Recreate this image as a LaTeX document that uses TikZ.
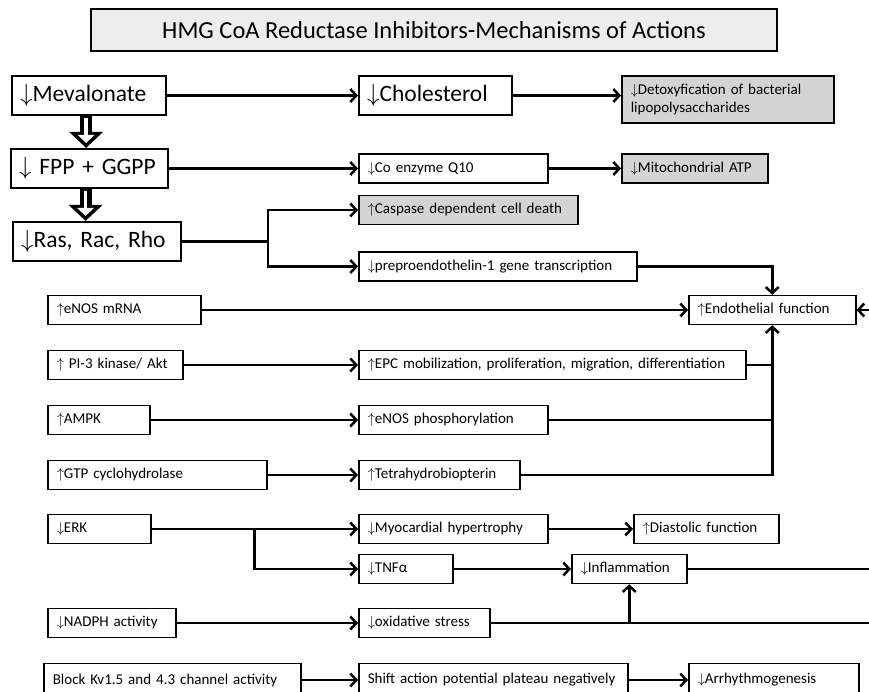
\documentclass[tikz,border=0pt]{standalone}
\usepackage{fontspec}
\setmainfont{Carlito}
\usetikzlibrary{arrows.meta,calc}

\newcommand{\decr}{$\downarrow$}
\newcommand{\incr}{$\uparrow$}

\tikzstyle{box} = [rectangle, draw, line width=1.5pt, anchor=west, align=left,
inner xsep=9pt, minimum height=29pt, font=\fontsize{15}{18}\selectfont]
\tikzstyle{greybox} = [box, fill=black!17]
\tikzstyle{bigbox} = [box, line width=2.2pt, inner xsep=8pt, minimum height=39pt, font=\fontsize{23.5}{27}\selectfont]
\tikzstyle{titlebox} = [rectangle, draw, line width=2.2pt, fill=black!7,
minimum width=686pt, minimum height=42pt, font=\fontsize{24.5}{28}\selectfont]
\tikzstyle{line} = [draw, line width=2.5pt, -{Straight Barb[length=6pt,width=13pt]}]
\tikzstyle{link} = [draw, line width=2.5pt]
\tikzstyle{fat} = [draw, line width=12pt, -{Triangle[length=16pt,width=34pt,line width=0pt]},
postaction={draw=white, line width=3.5pt, shorten <=1.5pt, shorten >=5pt,
-{Triangle[length=8pt,width=17pt,line width=0pt]}}]

\begin{document}
\begin{tikzpicture}[x=1pt, y=-1pt]
\useasboundingbox (0,0) rectangle (869,692);
\fill[white] (0,0) rectangle (869,692);

\node [titlebox] (title) at (434,30) {HMG CoA Reductase Inhibitors-Mechanisms of Actions};

% mevalonate pathway
\node [bigbox, text width=138pt] (meva) at (11,95.5) {\decr Mevalonate};
\node [bigbox, text width=137pt] (chol) at (358,95.5) {\decr Cholesterol};
\node [greybox, text width=194pt, minimum height=47pt] (detox) at (621,99.5) {\decr Detoxyfication of bacterial\\lipopolysaccharides};
\node [bigbox, text width=141pt] (fpp) at (10,168.5) {\decr\ FPP + GGPP};
\node [box, text width=171pt] (coq) at (358,168.5) {\decr Co enzyme Q10};
\node [greybox, text width=128pt] (mito) at (621,168.5) {\decr Mitochondrial ATP};
\node [bigbox, text width=152pt] (ras) at (12,241.5) {\decr Ras, Rac, Rho};
\node [greybox, text width=201pt] (casp) at (358,210) {\incr Caspase dependent cell death};
\node [box, text width=260pt] (ppet) at (358,266.5) {\decr preproendothelin-1 gene transcription};

% endothelium
\node [box, text width=149pt] (endo) at (688,310) {\incr Endothelial function};
\node [box, text width=135pt] (enos) at (47,310) {\incr eNOS mRNA};
\node [box, text width=117pt] (pi3) at (47,365) {\incr\ PI-3 kinase/ Akt};
\node [box, text width=369pt] (epc) at (358,365) {\incr EPC mobilization, proliferation, migration, differentiation};
\node [box, text width=84pt] (ampk) at (47,420) {\incr AMPK};
\node [box, text width=171pt] (phos) at (358,420) {\incr eNOS phosphorylation};
\node [box, text width=201pt] (gtp) at (47,475) {\incr GTP cyclohydrolase};
\node [box, text width=143pt] (bh4) at (358,475) {\incr Tetrahydrobiopterin};

% myocardium
\node [box, text width=85pt] (erk) at (47,529) {\decr ERK};
\node [box, text width=171pt] (myo) at (358,529) {\decr Myocardial hypertrophy};
\node [box, text width=127pt] (dia) at (633,529) {\incr Diastolic function};
\node [box, text width=76pt] (tnf) at (358,569) {\decr TNFα};
\node [box, text width=97pt] (infl) at (571,569) {\decr Inflammation};
\node [box, text width=110pt] (nadph) at (47,623) {\decr NADPH activity};
\node [box, text width=113pt] (ox) at (358,623) {\decr oxidative stress};
\node [box, text width=239pt, minimum height=33pt] (kv) at (43,680) {Block Kv1.5 and 4.3 channel activity};
\node [box, text width=251pt, minimum height=33pt] (shift) at (358,680) {Shift action potential plateau negatively};
\node [box, text width=152pt, minimum height=33pt] (arr) at (688,680) {\decr Arrhythmogenesis};

\coordinate (endoin) at (869,310);
\coordinate (inflout) at (869,569);
\coordinate (oxout) at (869,623);

\path [fat] ($(meva.south)+(-3,0)$) -- ($(meva.south |- fpp.north)+(-3,0)$);
\path [fat] ($(fpp.south)+(-4,0)$) -- ($(fpp.south |- ras.north)+(-4,0)$);
\path [line] (meva.east) -- (chol.west);
\path [line] (chol.east) -- (chol.east -| detox.west);
\path [line] (fpp.east) -- (coq.west);
\path [line] (coq.east) -- (mito.west);
\path [line] (ras.east) -- ++(86,0) |- (casp.west);
\path [line] (ras.east) -- ++(86,0) |- (ppet.west);
\path [line] (ppet.east) -| (endo.north);
\path [line] (enos.east) -- (endo.west);
\path [line] (endoin) -- (endo.east);
\path [line] (pi3.east) -- (epc.west);
\path [line] (ampk.east) -- (phos.west);
\path [line] (gtp.east) -- (bh4.west);
\path [link] (epc.east) -- (epc.east -| endo.south);
\path [link] (phos.east) -- (phos.east -| endo.south);
\path [line] (bh4.east) -| (endo.south);
\path [line] (erk.east) -- (myo.west);
\path [line] ($(erk.east)+(103,0)$) |- (tnf.west);
\path [line] (myo.east) -- (dia.west);
\path [line] (tnf.east) -- (infl.west);
\path [link] (infl.east) -- (inflout);
\path [line] (nadph.east) -- (ox.west);
\path [link] (ox.east) -- (oxout);
\path [line] (ox.east -| infl.south) -- (infl.south);
\path [line] (kv.east) -- (shift.west);
\path [line] (shift.east) -- (arr.west);
\end{tikzpicture}
\end{document}
